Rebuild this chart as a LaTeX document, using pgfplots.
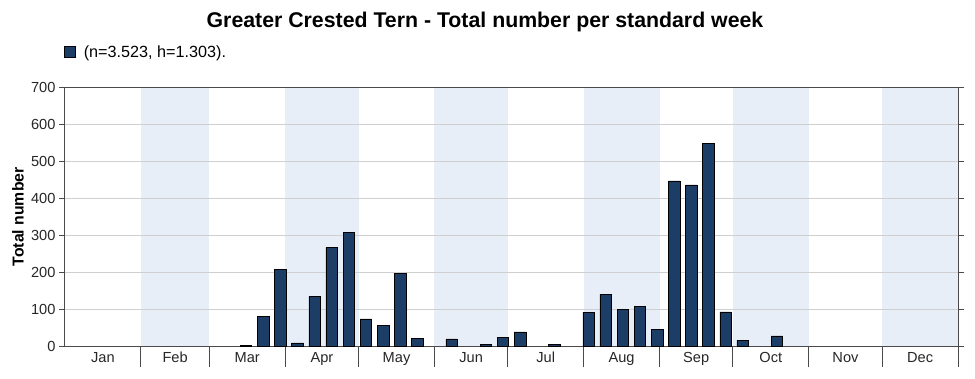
\documentclass[border=0pt]{standalone}
\usepackage{fontspec}
\setmainfont{Liberation Sans}
\usepackage{pgfplots}
\pgfplotsset{compat=1.18}
\definecolor{barc}{HTML}{1C3D66}
\definecolor{band}{HTML}{E8EEF7}
\definecolor{gridc}{HTML}{CFCFCF}
\definecolor{axc}{HTML}{4A4A4A}
\begin{document}
\begin{tikzpicture}
\begin{axis}[
  set layers=standard,
  anchor=south west, at={(0pt,0pt)},
  scale only axis, width=893pt, height=259.7pt,
  xmin=0, xmax=365, ymin=0, ymax=700,
  axis line style={draw=axc, line width=1pt},
  xtick={15.5,45,74.5,105,135.5,166,196.5,227.5,258,288.5,319,349.5},
  xticklabels={Jan,Feb,Mar,Apr,May,Jun,Jul,Aug,Sep,Oct,Nov,Dec},
  x tick style={draw=none},
  ytick={0,100,...,700},
  y tick style={draw=axc, line width=0.9pt},
  tick align=outside, major tick length=6pt,
  ymajorgrids, grid style={draw=gridc, line width=0.8pt},
  tick label style={font=\fontsize{14.6}{16}\selectfont, text=black!85},
  xticklabel style={yshift=4pt},
  /pgf/number format/assume math mode=true,
  ylabel={Total number},
  ylabel style={font=\bfseries\fontsize{15.8}{18}\selectfont, at={(axis description cs:-0.0526,0.5)}, anchor=center},
  clip=false,
  legend style={at={(axis description cs:0,1)}, anchor=west, yshift=35pt, xshift=-1pt, draw=none, fill=none, font=\fontsize{16.2}{18}\selectfont, inner sep=0pt},
  legend image code/.code={\draw[fill=barc, draw=black, line width=0.6pt] (0pt,-5.5pt) rectangle (11pt,5.5pt); \path (17pt,0pt);},
]
\addplot[fill=band, draw=none, on layer=axis background, forget plot] coordinates {(31,0) (31,700) (59,700) (59,0)} -- cycle;
\addplot[fill=band, draw=none, on layer=axis background, forget plot] coordinates {(90,0) (90,700) (120,700) (120,0)} -- cycle;
\addplot[fill=band, draw=none, on layer=axis background, forget plot] coordinates {(151,0) (151,700) (181,700) (181,0)} -- cycle;
\addplot[fill=band, draw=none, on layer=axis background, forget plot] coordinates {(212,0) (212,700) (243,700) (243,0)} -- cycle;
\addplot[fill=band, draw=none, on layer=axis background, forget plot] coordinates {(273,0) (273,700) (304,700) (304,0)} -- cycle;
\addplot[fill=band, draw=none, on layer=axis background, forget plot] coordinates {(334,0) (334,700) (365,700) (365,0)} -- cycle;
\addplot[ybar, bar width=4.7, fill=barc, draw=black, line width=0.6pt] coordinates {
(74,3) (81,82) (88,208) (95,10) (102,136) (109,268) (116,309)
(123,75) (130,57) (137,198) (144,22) (158,21) (172,7) (179,25)
(186,40) (200,7) (214,93) (221,141) (228,101) (235,108) (242,47)
(249,447) (256,436) (263,547) (270,94) (277,18) (291,29)
};
\addlegendentry{(n=3.523, h=1.303).}
\pgfplotsinvokeforeach{31,59,90,120,151,181,212,243,273,304,334,365}{
  \draw[axc, line width=1pt] (axis cs:#1,0) -- ++(0pt,-20pt);
}
\end{axis}
\node[font=\bfseries\fontsize{21.3}{24}\selectfont] at (420pt,324.7pt) {Greater Crested Tern - Total number per standard week};
\pgfresetboundingbox
\path[use as bounding box] (-65pt,-31.3pt) rectangle (910pt,346.7pt);
\end{tikzpicture}
\end{document}
